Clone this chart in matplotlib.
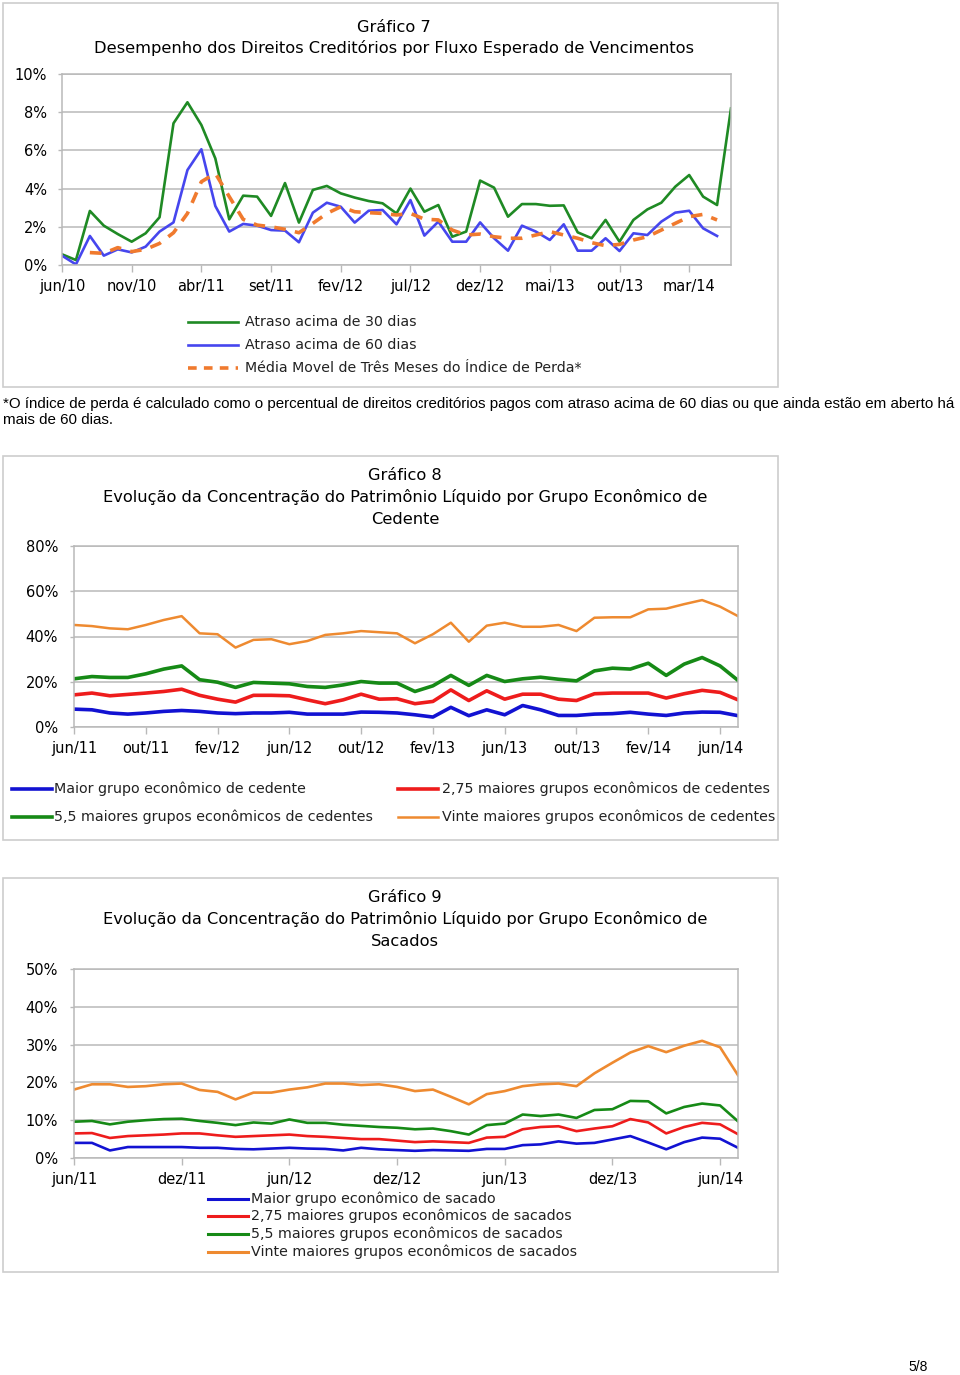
import matplotlib
matplotlib.use("Agg")
import matplotlib.pyplot as plt
import numpy as np
from matplotlib.lines import Line2D
from matplotlib.patches import Rectangle

W, H = 960, 1375
nan = np.nan

# ---- Grafico 7 (jun/10 .. jun/14, monthly) ----
g7_ticklabels = ["jun/10", "nov/10", "abr/11", "set/11", "fev/12", "jul/12",
                 "dez/12", "mai/13", "out/13", "mar/14"]
g7_atraso30 = [0.56, 0.26, 2.83, 2.06, 1.62, 1.22, 1.66, 2.5, 7.42, 8.52,
               7.33, 5.58, 2.39, 3.63, 3.58, 2.57, 4.29, 2.22, 3.93, 4.14,
               3.75, 3.53, 3.35, 3.23, 2.7, 4.0, 2.79, 3.14, 1.48, 1.75,
               4.42, 4.05, 2.53, 3.19, 3.19, 3.1, 3.12, 1.71, 1.4, 2.36,
               1.22, 2.36, 2.91, 3.26, 4.1, 4.71, 3.58, 3.14, 8.2]
g7_atraso60 = [0.49, 0.03, 1.52, 0.49, 0.82, 0.66, 0.96, 1.75, 2.23, 4.97,
               6.06, 3.09, 1.75, 2.15, 2.06, 1.83, 1.8, 1.19, 2.74, 3.26,
               3.05, 2.22, 2.84, 2.88, 2.13, 3.4, 1.54, 2.27, 1.22, 1.22,
               2.23, 1.4, 0.75, 2.06, 1.75, 1.31, 2.13, 0.75, 0.75, 1.4,
               0.73, 1.66, 1.57, 2.27, 2.74, 2.84, 1.92, 1.52]
g7_media = [nan, nan, 0.65, 0.61, 0.91, 0.7, 0.82, 1.13, 1.69, 2.7,
            4.36, 4.8, 3.58, 2.39, 2.09, 2.0, 1.87, 1.69, 2.18, 2.7,
            3.05, 2.79, 2.74, 2.7, 2.62, 2.7, 2.4, 2.36, 1.83, 1.57,
            1.62, 1.48, 1.4, 1.4, 1.57, 1.75, 1.57, 1.4, 1.17, 1.01,
            1.08, 1.31, 1.48, 1.83, 2.18, 2.53, 2.65, 2.36]

# ---- Grafico 8 (jun/11 .. jul/14) ----
g8_ticklabels = ["jun/11", "out/11", "fev/12", "jun/12", "out/12", "fev/13",
                 "jun/13", "out/13", "fev/14", "jun/14"]
g8_maior = [7.9, 7.6, 6.2, 5.7, 6.2, 6.9, 7.3, 6.9, 6.2, 5.9,
            6.2, 6.2, 6.5, 5.7, 5.7, 5.7, 6.6, 6.5, 6.2, 5.4,
            4.4, 8.7, 5.0, 7.6, 5.4, 9.5, 7.6, 5.1, 5.1, 5.7,
            5.9, 6.5, 5.7, 5.1, 6.2, 6.6, 6.5, 5.0]
g8_275 = [14.2, 15.0, 13.8, 14.4, 15.0, 15.7, 16.7, 14.0, 12.3, 11.0,
          14.0, 14.0, 13.8, 12.0, 10.3, 12.0, 14.5, 12.3, 12.5, 10.3,
          11.3, 16.4, 11.7, 16.0, 12.3, 14.5, 14.5, 12.3, 11.7, 14.7,
          15.0, 15.0, 15.0, 12.8, 14.7, 16.2, 15.3, 12.0]
g8_55 = [21.3, 22.3, 21.9, 21.9, 23.5, 25.6, 27.0, 20.9, 19.8, 17.5,
         19.7, 19.4, 19.1, 17.9, 17.5, 18.6, 20.1, 19.4, 19.4, 15.7,
         18.2, 22.8, 18.4, 22.8, 20.1, 21.3, 22.0, 21.1, 20.4, 24.8,
         26.0, 25.6, 28.2, 22.8, 27.8, 30.7, 27.0, 20.6]
g8_vinte = [45.1, 44.6, 43.6, 43.2, 45.1, 47.3, 49.0, 41.4, 41.0, 35.1,
            38.5, 38.8, 36.6, 38.0, 40.7, 41.4, 42.4, 41.9, 41.4, 37.0,
            41.0, 46.1, 37.7, 44.8, 46.1, 44.3, 44.3, 45.1, 42.4, 48.3,
            48.5, 48.5, 52.0, 52.3, 54.3, 56.1, 53.2, 49.0]

# ---- Grafico 9 (jun/11 .. jul/14) ----
g9_ticklabels = ["jun/11", "dez/11", "jun/12", "dez/12", "jun/13", "dez/13", "jun/14"]
g9_maior = [4.0, 4.0, 2.0, 2.9, 2.9, 2.9, 2.9, 2.7, 2.7, 2.4,
            2.3, 2.5, 2.7, 2.5, 2.4, 2.0, 2.7, 2.3, 2.1, 1.9,
            2.1, 2.0, 1.9, 2.4, 2.4, 3.4, 3.6, 4.4, 3.8, 4.0,
            4.9, 5.8, 4.1, 2.3, 4.2, 5.4, 5.1, 2.7]
g9_275 = [6.5, 6.6, 5.3, 5.8, 6.0, 6.2, 6.5, 6.5, 6.0, 5.6,
          5.8, 6.0, 6.2, 5.8, 5.6, 5.3, 5.0, 5.0, 4.6, 4.2,
          4.4, 4.2, 4.0, 5.4, 5.6, 7.6, 8.2, 8.4, 7.1, 7.8,
          8.4, 10.3, 9.4, 6.5, 8.2, 9.3, 8.9, 6.3]
g9_55 = [9.6, 9.8, 8.9, 9.6, 10.0, 10.3, 10.4, 9.8, 9.3, 8.7,
         9.4, 9.1, 10.2, 9.3, 9.3, 8.8, 8.5, 8.2, 8.0, 7.6,
         7.8, 7.1, 6.2, 8.7, 9.1, 11.5, 11.1, 11.5, 10.6, 12.7,
         12.9, 15.1, 15.0, 11.8, 13.5, 14.4, 13.9, 9.7]
g9_vinte = [18.1, 19.5, 19.5, 18.8, 19.0, 19.5, 19.7, 18.0, 17.5, 15.5,
            17.3, 17.3, 18.1, 18.7, 19.7, 19.7, 19.3, 19.5, 18.8, 17.7,
            18.1, 16.2, 14.2, 16.9, 17.7, 19.0, 19.5, 19.7, 19.0, 22.4,
            25.2, 27.9, 29.6, 28.0, 29.7, 31.0, 29.3, 21.9]

FONT = "DejaVu Sans"
GRID = "#b9b9b9"
TITLE_SIZE = 11.7
plt.rcParams["font.family"] = FONT

fig = plt.figure(figsize=(W / 100, H / 100), dpi=100)


def px(x, y):
    return x / W, 1 - y / H


def box(l, t, r, b):
    return [l / W, 1 - b / H, (r - l) / W, (b - t) / H]


def panel(l, t, r, b):
    fig.add_artist(Rectangle(px(l, b), (r - l) / W, (b - t) / H, transform=fig.transFigure,
                             fill=False, edgecolor="#cdcdcd", linewidth=1.2))


def setup(ax, n, ymax, ystep, tickstep, labels, ypad):
    ax.set_xlim(0, n - 1)
    ax.set_ylim(0, ymax)
    yt = np.arange(0, ymax + ystep / 2, ystep)
    ax.set_yticks(yt)
    ax.set_yticklabels(["%d%%" % v for v in yt])
    ax.set_xticks(np.arange(0, n, tickstep)[:len(labels)])
    ax.set_xticklabels(labels)
    ax.grid(axis="y", color=GRID, linewidth=1.1)
    ax.set_axisbelow(True)
    for s in ax.spines.values():
        s.set_color(GRID)
        s.set_linewidth(1.1)
    ax.tick_params(axis="x", length=5, width=1, color=GRID, pad=5, labelsize=10.5)
    ax.tick_params(axis="y", length=3, width=1, color=GRID, pad=ypad, labelsize=10.5)


def legend_row(x, y, length, color, label, lw, dashed=False, size=10.3, gap=4):
    x0, y0 = px(x, y)
    x1, _ = px(x + length, y)
    ln = Line2D([x0, x1], [y0, y0], transform=fig.transFigure, color=color, linewidth=lw,
                linestyle=(0, (2.4, 2.0)) if dashed else "-")
    fig.add_artist(ln)
    fig.text(x1 + gap / W, y0, label, ha="left", va="center", fontsize=size, color="#222222")


# ---------------- Grafico 7 ----------------
panel(3, 3, 778, 387)
ax7 = fig.add_axes(box(62, 74, 731, 265))
ax7.plot(np.arange(len(g7_atraso30)), g7_atraso30, color="#1f8a24", lw=1.9)
ax7.plot(np.arange(len(g7_atraso60)), g7_atraso60, color="#4646ee", lw=1.9)
ax7.plot(np.arange(len(g7_media)), g7_media, color="#f07a2e", lw=2.6, linestyle=(0, (3.2, 2.6)))
setup(ax7, len(g7_atraso30), 10, 2, 5, g7_ticklabels, 7.8)
fig.text(*px(394, 27), "Gráfico 7", ha="center", va="center", fontsize=TITLE_SIZE)
fig.text(*px(394, 48), "Desempenho dos Direitos Creditórios por Fluxo Esperado de Vencimentos",
         ha="center", va="center", fontsize=TITLE_SIZE)
legend_row(188, 322, 50, "#1f8a24", "Atraso acima de 30 dias", 1.9, size=10.2, gap=7)
legend_row(188, 345, 50, "#4646ee", "Atraso acima de 60 dias", 1.9, size=10.2, gap=7)
legend_row(188, 368, 50, "#f07a2e", "Média Movel de Três Meses do Índice de Perda*", 2.6,
           dashed=True, size=10.2, gap=7)

fig.text(*px(3, 404), "*O índice de perda é calculado como o percentual de direitos creditórios pagos com "
         "atraso acima de 60 dias ou que ainda estão em aberto há",
         ha="left", va="center", fontsize=10.9, family="Liberation Sans")
fig.text(*px(3, 420), "mais de 60 dias.", ha="left", va="center", fontsize=10.9, family="Liberation Sans")

# ---------------- Grafico 8 ----------------
panel(3, 456, 778, 840)
ax8 = fig.add_axes(box(74, 546, 738, 727))
m8 = np.arange(len(g8_maior))
ax8.plot(m8, g8_vinte, color="#ee8a30", lw=1.8)
ax8.plot(m8, g8_55, color="#168a16", lw=2.6)
ax8.plot(m8, g8_275, color="#ee1c1c", lw=2.6)
ax8.plot(m8, g8_maior, color="#1212d2", lw=2.6)
setup(ax8, len(g8_maior), 80, 20, 4, g8_ticklabels, 8.5)
fig.text(*px(405, 476), "Gráfico 8", ha="center", va="center", fontsize=TITLE_SIZE)
fig.text(*px(405, 497), "Evolução da Concentração do Patrimônio Líquido por Grupo Econômico de",
         ha="center", va="center", fontsize=TITLE_SIZE)
fig.text(*px(405, 519), "Cedente", ha="center", va="center", fontsize=TITLE_SIZE)
legend_row(12, 789, 40, "#1212d2", "Maior grupo econômico de cedente", 2.6, gap=2)
legend_row(12, 817, 40, "#168a16", "5,5 maiores grupos econômicos de cedentes", 2.6, gap=2)
legend_row(398, 789, 40, "#ee1c1c", "2,75 maiores grupos econômicos de cedentes", 2.6, gap=4)
legend_row(398, 817, 40, "#ee8a30", "Vinte maiores grupos econômicos de cedentes", 1.8, gap=4)

# ---------------- Grafico 9 ----------------
panel(3, 878, 778, 1272)
ax9 = fig.add_axes(box(74, 969, 738, 1158))
m9 = np.arange(len(g9_maior))
ax9.plot(m9, g9_vinte, color="#ee8a30", lw=1.9)
ax9.plot(m9, g9_55, color="#168a16", lw=1.9)
ax9.plot(m9, g9_275, color="#ee1c1c", lw=1.9)
ax9.plot(m9, g9_maior, color="#1212d2", lw=1.9)
setup(ax9, len(g9_maior), 50, 10, 6, g9_ticklabels, 8.5)
fig.text(*px(405, 898), "Gráfico 9", ha="center", va="center", fontsize=TITLE_SIZE)
fig.text(*px(405, 919), "Evolução da Concentração do Patrimônio Líquido por Grupo Econômico de",
         ha="center", va="center", fontsize=TITLE_SIZE)
fig.text(*px(405, 941), "Sacados", ha="center", va="center", fontsize=TITLE_SIZE)
legend_row(208, 1199, 40, "#1212d2", "Maior grupo econômico de sacado", 2.2, gap=3)
legend_row(208, 1216, 40, "#ee1c1c", "2,75 maiores grupos econômicos de sacados", 2.2, gap=3)
legend_row(208, 1234, 40, "#168a16", "5,5 maiores grupos econômicos de sacados", 2.2, gap=3)
legend_row(208, 1252, 40, "#ee8a30", "Vinte maiores grupos econômicos de sacados", 2.2, gap=3)

fig.text(*px(928, 1367), "5/8", ha="right", va="center", fontsize=10, family="Liberation Sans")

fig.savefig("out.png", dpi=100)
